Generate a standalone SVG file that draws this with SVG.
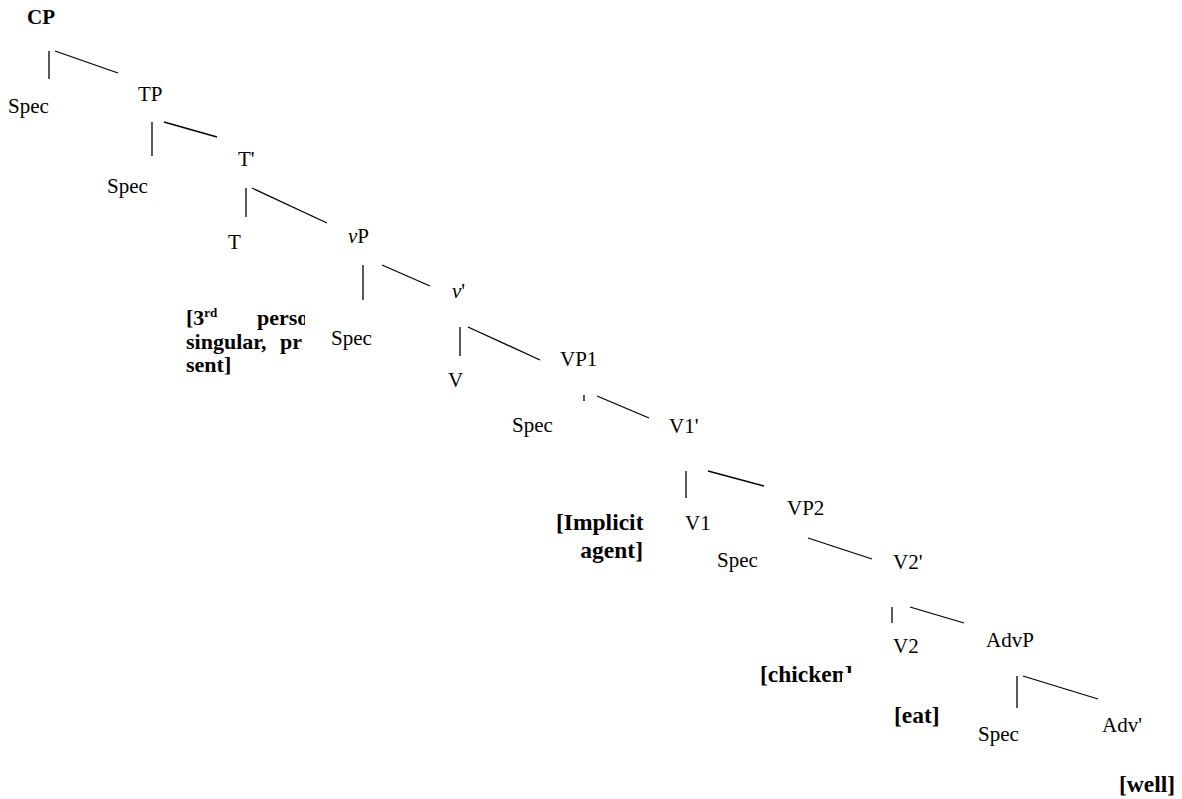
<svg xmlns="http://www.w3.org/2000/svg" width="1182" height="799" viewBox="0 0 1182 799">
<style>
text{font-size:21px;fill:#000}
.b{font-weight:bold}
.i{font-style:italic}
.a{font-size:23.5px;font-weight:bold}
.n{font-size:22px;font-weight:bold}
.sup{font-size:13px;font-weight:bold}
#edges line{stroke:#000;stroke-width:1.3}
</style>
<defs>
<clipPath id="clipAnn"><rect x="0" y="300" width="305" height="100"/></clipPath>
<clipPath id="clipChk"><polygon points="700,650 900,650 900,673 842,673 842,700 700,700"/></clipPath>
</defs>
<rect width="1182" height="799" fill="#fff"/>
<g id="edges">
<line x1="49" y1="51" x2="49" y2="79"/>
<line x1="55" y1="51" x2="118" y2="73"/>
<line x1="152" y1="122" x2="152" y2="156"/>
<line x1="164" y1="122" x2="217" y2="137"/>
<line x1="246" y1="188" x2="246" y2="217"/>
<line x1="252" y1="188" x2="327" y2="223"/>
<line x1="363" y1="265" x2="363" y2="300"/>
<line x1="382" y1="265" x2="430" y2="286"/>
<line x1="460" y1="327" x2="460" y2="356"/>
<line x1="468" y1="327" x2="540" y2="360"/>
<line x1="584" y1="395" x2="584" y2="401"/>
<line x1="597" y1="396" x2="649" y2="418"/>
<line x1="686" y1="471" x2="686" y2="498"/>
<line x1="708" y1="471" x2="764" y2="486"/>
<line x1="808" y1="538" x2="872" y2="559"/>
<line x1="892" y1="607" x2="892" y2="623"/>
<line x1="910" y1="607" x2="964" y2="623"/>
<line x1="1017" y1="676" x2="1017" y2="708"/>
<line x1="1023" y1="676" x2="1098" y2="699"/>
</g>
<g font-family="'Liberation Serif', 'Times New Roman', 'DejaVu Serif', serif">
<g id="CP"><text class="b" x="27" y="24">CP</text></g>
<g id="Spec1"><text x="8" y="113">Spec</text></g>
<g id="TP"><text x="138" y="101">TP</text></g>
<g id="Spec2"><text x="107" y="193">Spec</text></g>
<g id="Tbar"><text x="238" y="166">T'</text></g>
<g id="T"><text x="228" y="249">T</text></g>
<g id="vP"><text x="348" y="243"><tspan class="i">v</tspan>P</text></g>
<g id="vbar"><text x="452" y="298"><tspan class="i">v</tspan>'</text></g>
<g id="Spec3"><text x="331" y="345">Spec</text></g>
<g id="ann1" clip-path="url(#clipAnn)">
<text class="n" x="186" y="325">[3<tspan class="sup" dy="-8">rd</tspan></text>
<text class="n" x="257" y="325">perso</text>
<text class="n" x="186" y="348.5" word-spacing="8">singular, pr</text>
<text class="n" x="186" y="372">sent]</text>
</g>
<g id="V"><text x="448" y="387">V</text></g>
<g id="VP1"><text x="560" y="366">VP1</text></g>
<g id="Spec4"><text x="512" y="432">Spec</text></g>
<g id="V1bar"><text x="669" y="433">V1'</text></g>
<g id="ann2">
<text class="a" x="556" y="530">[Implicit</text>
<text class="a" x="643" y="558" text-anchor="end">agent]</text>
</g>
<g id="V1"><text x="685" y="530">V1</text></g>
<g id="VP2"><text x="787" y="515">VP2</text></g>
<g id="Spec5"><text x="717" y="567">Spec</text></g>
<g id="V2bar"><text x="893" y="569">V2'</text></g>
<g id="V2"><text x="893" y="653">V2</text></g>
<g id="AdvP"><text x="986" y="647">AdvP</text></g>
<g id="ann3" clip-path="url(#clipChk)"><text class="a" x="760" y="682" font-size="24">[chicken]</text></g>
<g id="ann4"><text class="a" x="894" y="723">[eat]</text></g>
<g id="Spec6"><text x="978" y="741">Spec</text></g>
<g id="Advbar"><text x="1102" y="732">Adv'</text></g>
<g id="ann5"><text class="a" x="1119" y="792">[well]</text></g>
</g>
</svg>
